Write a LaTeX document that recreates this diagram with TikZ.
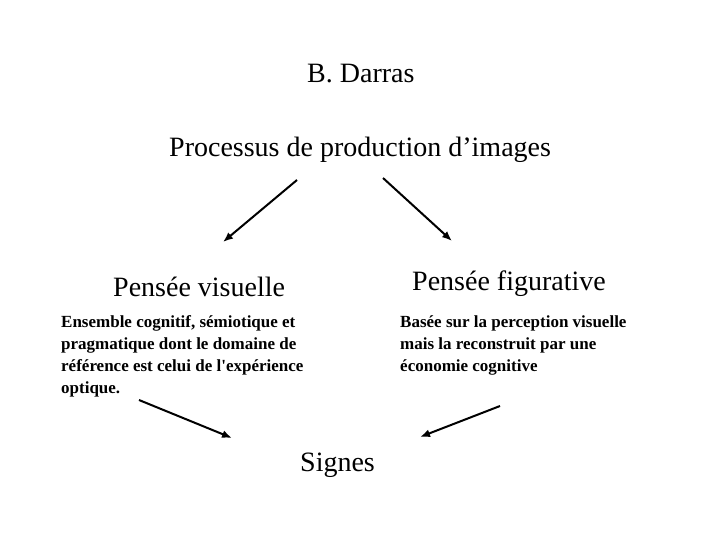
\documentclass[tikz,border=0pt]{standalone}
\usepackage{fontspec}
\setmainfont{Liberation Serif}
\usetikzlibrary{arrows.meta}

\tikzset{
  big/.style={inner sep=0pt,anchor=base west,font=\fontsize{28}{32}\selectfont},
  small/.style={inner sep=0pt,anchor=north west,align=left,font=\fontsize{17}{22}\selectfont\bfseries},
  arr/.style={-{Latex[length=10pt,width=8pt]},line width=2pt}
}

\begin{document}
\begin{tikzpicture}[x=1pt,y=-1pt]
        \useasboundingbox (0,0) rectangle (720,540);

        \node[big] (auteur) at (307,83) {B. Darras};
        \node[big] (proc) at (169,157) {Processus de production d’images};
        \node[big] (visu) at (113,296) {Pensée visuelle};
        \node[big] (figu) at (412,290) {Pensée figurative};
        \node[big] (signes) at (300,471) {Signes};

        \node[small] (defvisu) at (61,315) {Ensemble cognitif, sémiotique et\\
          pragmatique dont le domaine de\\
          référence est celui de l\textquotesingle expérience\\
          optique.};
        \node[small] (deffigu) at (400,315) {Basée sur la perception visuelle\\
          mais la reconstruit par une\\
          économie cognitive};

        % extremites des fleches
        \coordinate (p1) at (297,180);
        \coordinate (v1) at (223,242);
        \coordinate (p2) at (383,178);
        \coordinate (f1) at (452,241);
        \coordinate (v2) at (139,400);
        \coordinate (s1) at (232,438);
        \coordinate (f2) at (500,406);
        \coordinate (s2) at (420,437);

        \draw[arr] (p1) -- (v1);
        \draw[arr] (p2) -- (f1);
        \draw[arr] (v2) -- (s1);
        \draw[arr] (f2) -- (s2);

      \end{tikzpicture}
\end{document}
